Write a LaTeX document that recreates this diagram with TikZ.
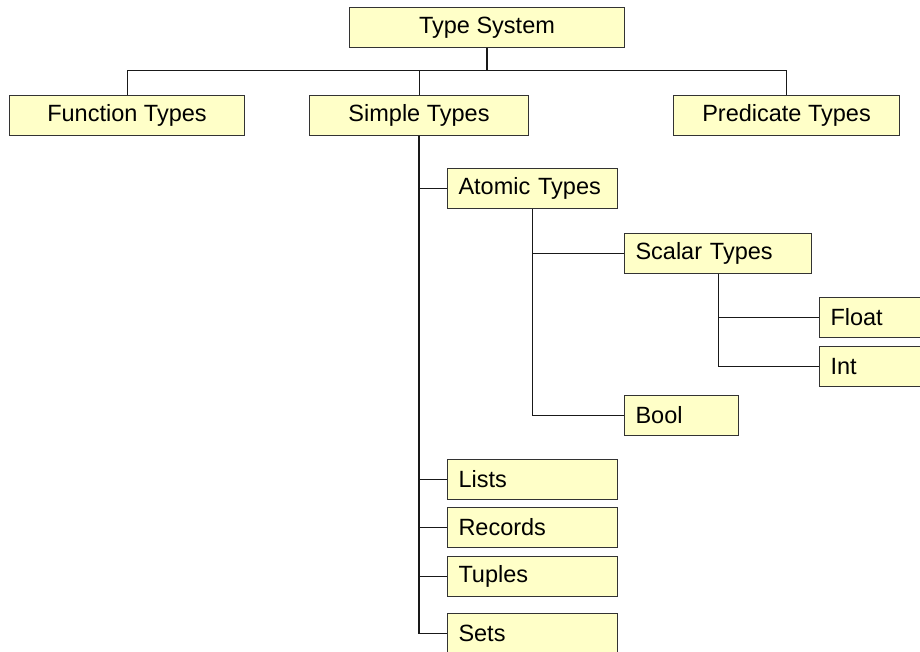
\documentclass[tikz,border=0pt]{standalone}
\usepackage{fontspec}
\setmainfont{Liberation Sans}
\begin{document}
\begin{tikzpicture}[x=1pt,y=-1pt,
        box/.style={draw=black!80, line width=1pt, fill={rgb,255:red,255;green,255;blue,200}, rectangle, anchor=north west, minimum height=40pt, inner sep=0pt, font=\fontsize{23.5}{28}\selectfont},
        leaf/.style={box, inner xsep=11pt, align=left, text width=#1},
        link/.style={black!90, line width=1pt}]
        \useasboundingbox (0,0) rectangle (920,651);
        \node[box, minimum width=275pt] (ts) at (349,7) {Type System};
        \node[box, minimum width=235pt] (ft) at (9,95) {Function Types};
        \node[box, minimum width=219pt] (st) at (309,95) {Simple Types};
        \node[box, minimum width=226pt] (pt) at (673,95) {Predicate Types};
        \node[leaf=148pt] (at) at (447,168) {Atomic Types};
        \node[leaf=165pt] (sc) at (624,233) {Scalar Types};
        \node[leaf=92pt] (fl) at (819,297) {Float};
        \node[leaf=92pt] (it) at (819,346) {Int};
        \node[leaf=92pt] (bo) at (624,395) {Bool};
        \node[leaf=148pt] (li) at (447,459) {Lists};
        \node[leaf=148pt] (re) at (447,507) {Records};
        \node[leaf=148pt] (tu) at (447,556) {Tuples};
        \node[leaf=148pt] (se) at (447,613) {Sets};
        \coordinate (bus) at (0,70);
        \draw[link, line width=1.4pt] (ts.south) -- (ts.south |- bus);
        \draw[link] (ft.north) |- (pt.north |- bus) -- (pt.north);
        \draw[link] (st.north) -- (st.north |- bus);
        \draw[link, line width=1.4pt] (st.south) |- (se.west);
        \draw[link] (at.west) -- (at.west -| st.south);
        \draw[link] (li.west) -- (li.west -| st.south);
        \draw[link] (re.west) -- (re.west -| st.south);
        \draw[link] (tu.west) -- (tu.west -| st.south);
        \draw[link] (at.south) |- (bo.west);
        \draw[link] (sc.west) -- (sc.west -| at.south);
        \draw[link] (sc.south) |- (it.west);
        \draw[link] (fl.west) -- (fl.west -| sc.south);
\end{tikzpicture}
\end{document}
